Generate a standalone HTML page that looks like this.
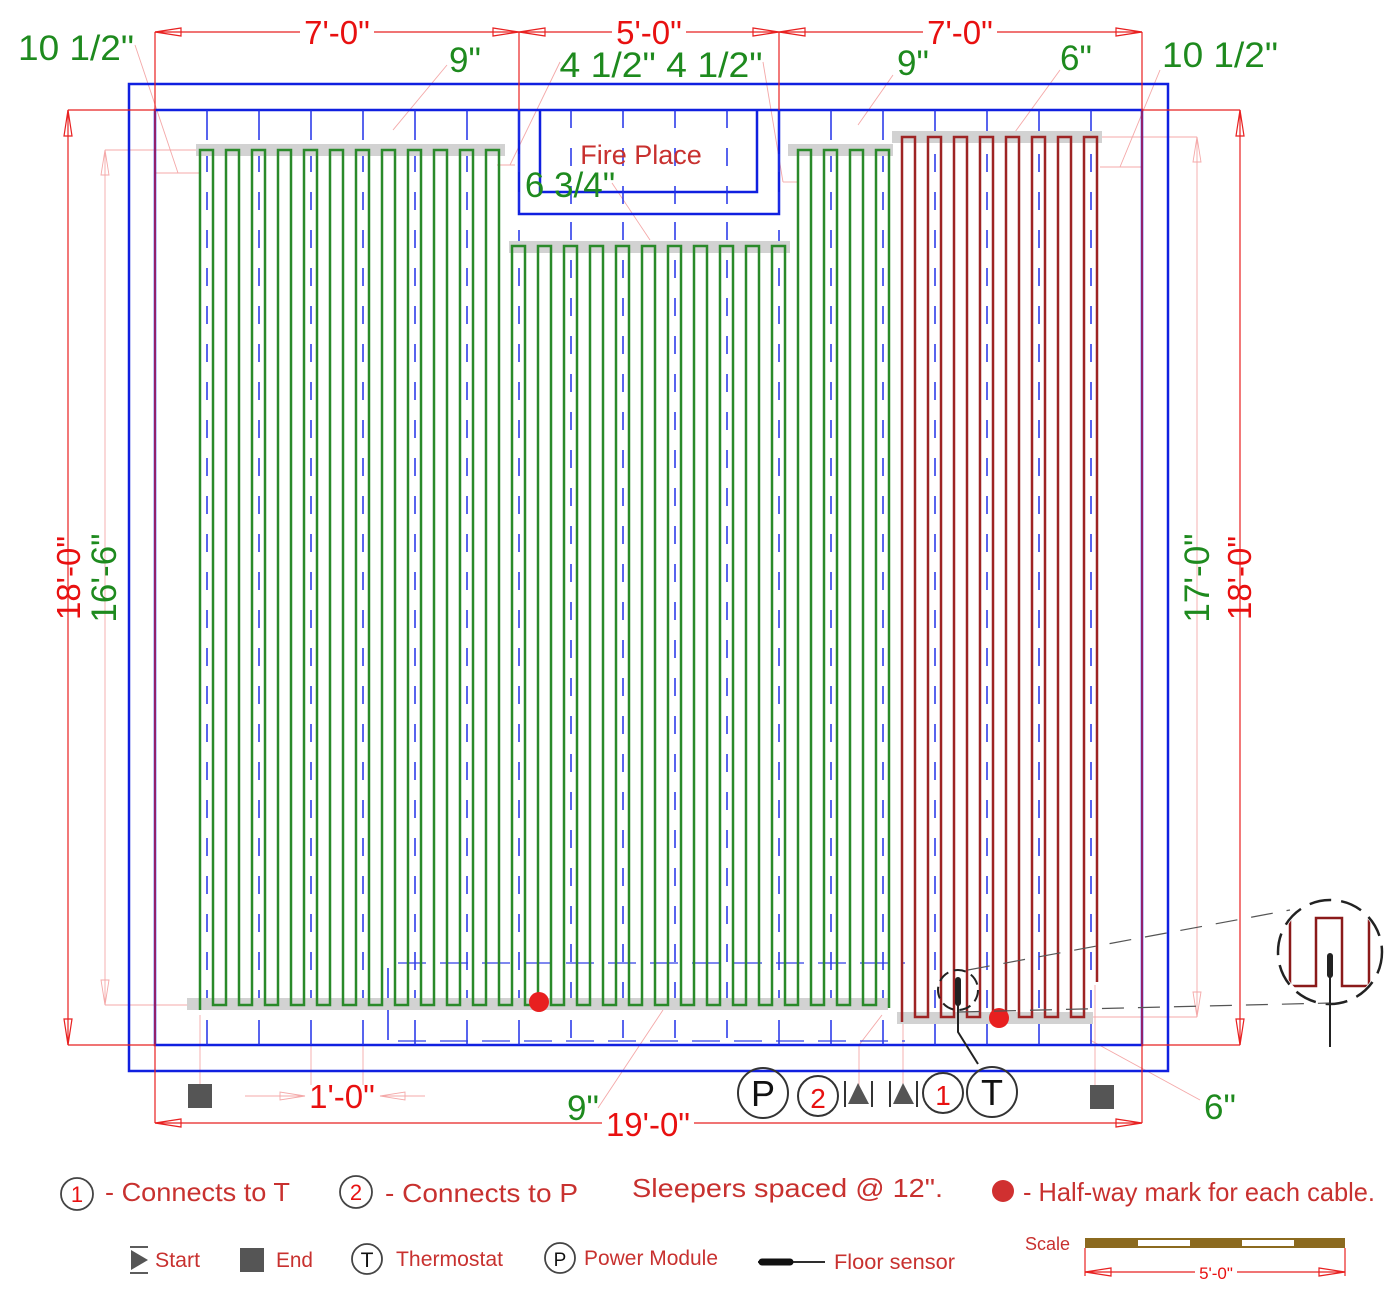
<!DOCTYPE html>
<html><head><meta charset="utf-8"><style>
html,body{margin:0;padding:0;background:#fff}
svg{display:block;font-family:"Liberation Sans",sans-serif}
</style></head><body>
<svg id="s" width="1400" height="1296" viewBox="0 0 1400 1296" xmlns="http://www.w3.org/2000/svg">
<defs>
<clipPath id="cc"><circle cx="1330" cy="952" r="50"/></clipPath>
</defs>
<g stroke="#f4a8a8" stroke-width="0.9" fill="none">
<line x1="105" y1="150" x2="196" y2="150"/><line x1="105" y1="1005" x2="187" y2="1005"/>
<line x1="105" y1="150" x2="105" y2="1005"/>
<line x1="1197" y1="137" x2="1102" y2="137"/><line x1="1197" y1="1017" x2="1093" y2="1017"/>
<line x1="1197" y1="137" x2="1197" y2="1017"/>
<line x1="135" y1="45" x2="178" y2="173"/><line x1="155" y1="173" x2="200" y2="173"/>
<line x1="447" y1="65" x2="393" y2="130"/>
<line x1="560" y1="62" x2="510" y2="165"/><line x1="497" y1="165" x2="515" y2="165"/>
<line x1="763" y1="62" x2="783" y2="182"/><line x1="783" y1="182" x2="797" y2="182"/>
<line x1="893" y1="75" x2="858" y2="125"/>
<line x1="1060" y1="70" x2="1015" y2="132"/>
<line x1="1160" y1="70" x2="1120" y2="167"/><line x1="1100" y1="167" x2="1142" y2="167"/>
<line x1="612" y1="183" x2="650" y2="240"/>
<line x1="200" y1="1015" x2="200" y2="1095"/>
<line x1="598" y1="1108" x2="663" y2="1010"/>
<line x1="1200" y1="1100" x2="1090" y2="1040"/>
<line x1="859" y1="1090" x2="859" y2="1045"/><line x1="859" y1="1045" x2="882" y2="1015"/>
<line x1="903" y1="1090" x2="903" y2="1020"/>
<line x1="1095" y1="1095" x2="1095" y2="985"/>
<line x1="1190" y1="1017" x2="1100" y2="1017"/>
<line x1="245" y1="1096" x2="305" y2="1096"/><line x1="380" y1="1096" x2="425" y2="1096"/>
<line x1="311" y1="1045" x2="311" y2="1085"/><line x1="363" y1="1045" x2="363" y2="1085"/>
<polygon points="305,1096 280,1092 280,1100"/><polygon points="380,1096 405,1092 405,1100"/>
<polygon points="105,150 101,175 109,175"/><polygon points="105,1005 101,980 109,980"/>
<polygon points="1197,137 1193,162 1201,162"/><polygon points="1197,1017 1193,992 1201,992"/>
</g>
<g stroke="#1020e0" stroke-width="2.5" fill="none">
<rect x="129" y="84" width="1039" height="987"/>
<rect x="155" y="110" width="987" height="935"/>
<polyline points="519,110 519,214 779,214 779,110"/>
<polyline points="540,110 540,192 757,192 757,110"/>
</g>
<g id="slp" stroke="#2030e8" stroke-width="1.5" fill="none"></g>
<g stroke="#3040e8" stroke-width="1.3" fill="none" stroke-dasharray="28,14">
<line x1="398" y1="963" x2="905" y2="963"/><line x1="398" y1="1041" x2="905" y2="1041"/>
</g>
<line x1="388" y1="968" x2="388" y2="1040" stroke="#2030e8" stroke-width="1.5"/>
<g fill="#d2d2d2">
<rect x="196" y="144" width="309" height="12"/>
<rect x="509" y="241" width="281" height="12"/>
<rect x="788" y="144" width="105" height="12"/>
<rect x="892" y="131" width="210" height="12"/>
<rect x="187" y="998" width="701" height="12"/>
<rect x="897" y="1012" width="196" height="12"/>
</g>
<path id="gp" stroke="#2a8a2a" stroke-width="2.5" fill="none"/>
<path id="rp" stroke="#9e2424" stroke-width="2.5" fill="none"/>
<circle cx="539" cy="1002" r="10" fill="#e82020"/>
<circle cx="999" cy="1018" r="10" fill="#e82020"/>
<g stroke="#e82020" stroke-width="1.2" fill="none">
<line x1="155" y1="32" x2="1142" y2="32"/>
<line x1="155" y1="32" x2="155" y2="1123"/><line x1="519" y1="32" x2="519" y2="110"/>
<line x1="779" y1="32" x2="779" y2="110"/><line x1="1142" y1="32" x2="1142" y2="1123"/>
<line x1="155" y1="1123" x2="1142" y2="1123"/>
<line x1="68" y1="110" x2="155" y2="110"/><line x1="68" y1="1045" x2="155" y2="1045"/>
<line x1="68" y1="110" x2="68" y2="1045"/>
<line x1="1142" y1="110" x2="1240" y2="110"/><line x1="1142" y1="1045" x2="1240" y2="1045"/>
<line x1="1240" y1="110" x2="1240" y2="1045"/>
<polygon points="155,32 181,28 181,36"/><polygon points="519,32 493,28 493,36"/><polygon points="519,32 545,28 545,36"/>
<polygon points="779,32 753,28 753,36"/><polygon points="779,32 805,28 805,36"/><polygon points="1142,32 1116,28 1116,36"/>
<polygon points="155,1123 181,1119 181,1127"/><polygon points="1142,1123 1116,1119 1116,1127"/>
<polygon points="68,110 64,136 72,136"/><polygon points="68,1045 64,1019 72,1019"/>
<polygon points="1240,110 1236,136 1244,136"/><polygon points="1240,1045 1236,1019 1244,1019"/>
</g>
<g fill="#e81010" font-size="33" text-anchor="middle">
<rect x="300" y="16" width="74" height="30" fill="#fff"/><text x="337" y="44">7'-0"</text>
<rect x="612" y="16" width="74" height="30" fill="#fff"/><text x="649" y="44">5'-0"</text>
<rect x="923" y="16" width="74" height="30" fill="#fff"/><text x="960" y="44">7'-0"</text>
<rect x="602" y="1108" width="92" height="30" fill="#fff"/><text x="648" y="1136">19'-0"</text>
<text x="342" y="1108">1'-0"</text>
<text transform="translate(80,578) rotate(-90)">18'-0"</text>
<text transform="translate(1251,578) rotate(-90)">18'-0"</text>
</g>
<g fill="#1e8a1e" font-size="35" text-anchor="middle">
<text transform="translate(116,578) rotate(-90)">16'-6"</text>
<text transform="translate(1209,578) rotate(-90)">17'-0"</text>
<text x="76" y="60" textLength="116" lengthAdjust="spacingAndGlyphs">10 1/2"</text>
<text x="465" y="72">9"</text>
<text x="661" y="77" textLength="203" lengthAdjust="spacingAndGlyphs">4 1/2" 4 1/2"</text>
<text x="913" y="75">9"</text>
<text x="1076" y="70">6"</text>
<text x="1220" y="67" textLength="116" lengthAdjust="spacingAndGlyphs">10 1/2"</text>
<text x="570" y="197">6 3/4"</text>
<text x="583" y="1120">9"</text>
<text x="1220" y="1119">6"</text>
</g>
<text x="641" y="164" fill="#c8312f" font-size="27" text-anchor="middle">Fire Place</text>
<g stroke="#222" fill="none">
<circle cx="958" cy="990" r="20" stroke-width="2" stroke-dasharray="12,6"/>
<circle cx="1330" cy="952" r="52" stroke-width="2.5" stroke-dasharray="22,10"/>
<line x1="968" y1="970" x2="1290" y2="910" stroke="#555" stroke-width="1.2" stroke-dasharray="22,14"/>
<line x1="958" y1="1012" x2="1330" y2="1003" stroke="#555" stroke-width="1.2" stroke-dasharray="22,14"/>
<line x1="958" y1="980" x2="958" y2="1003" stroke-width="6" stroke-linecap="round"/>
<polyline points="958,1003 958,1032 978,1064" stroke-width="2"/>
<line x1="1330" y1="956" x2="1330" y2="975" stroke-width="6" stroke-linecap="round"/>
<line x1="1330" y1="975" x2="1330" y2="1047" stroke-width="2"/>
</g>
<path clip-path="url(#cc)" d="M1290 900 V986 H1316 V918 H1342 V986 H1369 V900" stroke="#8b1a1a" stroke-width="2.5" fill="none"/>
<g stroke="#333" stroke-width="2" fill="none">
<circle cx="763" cy="1093" r="25"/><circle cx="818" cy="1096" r="20"/>
<circle cx="943" cy="1093" r="20"/><circle cx="992" cy="1092" r="25"/>
<line x1="845" y1="1081" x2="845" y2="1107"/><line x1="872" y1="1081" x2="872" y2="1107"/>
<line x1="890" y1="1081" x2="890" y2="1107"/><line x1="917" y1="1081" x2="917" y2="1107"/>
</g>
<polygon points="858,1083 848,1104 869,1104" fill="#555"/>
<polygon points="903,1083 893,1104 914,1104" fill="#555"/>
<g font-size="36" text-anchor="middle">
<text x="763" y="1106" fill="#111">P</text><text x="992" y="1105" fill="#111">T</text>
<text x="818" y="1108" fill="#e81010" font-size="28">2</text><text x="943" y="1105" fill="#e81010" font-size="28">1</text>
</g>
<rect x="188" y="1084" width="24" height="24" fill="#555"/>
<rect x="1090" y="1085" width="24" height="24" fill="#555"/>
<g stroke="#444" stroke-width="1.8" fill="none">
<circle cx="77" cy="1194" r="16"/><circle cx="356" cy="1192" r="16"/>
<circle cx="367" cy="1259" r="15"/><circle cx="560" cy="1258" r="15"/>
<line x1="130" y1="1247" x2="148" y2="1247"/><line x1="130" y1="1273" x2="148" y2="1273"/>
<line x1="758" y1="1262" x2="825" y2="1262" stroke="#111"/>
<line x1="762" y1="1262" x2="790" y2="1262" stroke="#111" stroke-width="7" stroke-linecap="round"/>
</g>
<polygon points="131,1250 148,1260 131,1270" fill="#555"/>
<rect x="240" y="1248" width="24" height="24" fill="#555"/>
<circle cx="1003" cy="1191" r="11" fill="#d03030"/>
<g font-size="22" text-anchor="middle">
<text x="77" y="1202" fill="#e81010">1</text><text x="356" y="1200" fill="#e81010">2</text>
<text x="367" y="1267" fill="#111" font-size="21">T</text><text x="560" y="1266" fill="#111" font-size="19">P</text>
</g>
<g fill="#c8312f" font-size="26" lengthAdjust="spacingAndGlyphs">
<text x="105" y="1201" textLength="185" lengthAdjust="spacingAndGlyphs">- Connects to T</text>
<text x="385" y="1202" textLength="193" lengthAdjust="spacingAndGlyphs">- Connects  to P</text>
<text x="632" y="1197" textLength="311" lengthAdjust="spacingAndGlyphs">Sleepers spaced @ 12".</text>
<text x="1023" y="1201" textLength="352" lengthAdjust="spacingAndGlyphs">- Half-way mark for each cable.</text>
</g>
<g fill="#c8312f" font-size="21">
<text x="155" y="1267" textLength="45" lengthAdjust="spacingAndGlyphs">Start</text>
<text x="276" y="1267" textLength="37" lengthAdjust="spacingAndGlyphs">End</text>
<text x="396" y="1266" textLength="107" lengthAdjust="spacingAndGlyphs">Thermostat</text>
<text x="584" y="1265" textLength="134" lengthAdjust="spacingAndGlyphs">Power Module</text>
<text x="834" y="1269" textLength="121" lengthAdjust="spacingAndGlyphs">Floor sensor</text>
<text x="1025" y="1250" font-size="18">Scale</text>
</g>
<rect x="1085" y="1238" width="260" height="10" fill="#8b6a1f"/>
<rect x="1138" y="1240" width="52" height="6" fill="#fff"/><rect x="1242" y="1240" width="52" height="6" fill="#fff"/>
<g stroke="#e82020" stroke-width="1.2" fill="none">
<line x1="1085" y1="1248" x2="1085" y2="1276"/><line x1="1345" y1="1248" x2="1345" y2="1276"/>
<line x1="1085" y1="1272" x2="1345" y2="1272"/>
<polygon points="1085,1272 1111,1268 1111,1276"/><polygon points="1345,1272 1319,1268 1319,1276"/>
</g>
<rect x="1195" y="1262" width="42" height="18" fill="#fff"/>
<text x="1216" y="1279" fill="#e81010" font-size="17" text-anchor="middle">5'-0"</text>
</svg>
<script>
(function(){
var ns="http://www.w3.org/2000/svg",g=document.getElementById("slp");
function L(x1,y1,x2,y2,d){var l=document.createElementNS(ns,"line");l.setAttribute("x1",x1);l.setAttribute("y1",y1);l.setAttribute("x2",x2);l.setAttribute("y2",y2);if(d)l.setAttribute("stroke-dasharray",d);g.appendChild(l);}
for(var k=0;k<18;k++){var x=207+52*k;
 var fp=(x>519&&x<779);
 if(fp){L(x,110,x,214,"18,20");L(x,222,x,1045,"18,20");}
 else{L(x,110,x,140);L(x,154,x,1020,"18,20");L(x,1020,x,1045);}
}
var d="M200 1010";
function topY(i){if(i>=24&&i<=45)return 246;return 150;}
for(var i=0;i<54;i++){var x=200+13*i;
 if(i%2==0){d+=" V"+topY(i)+" H"+(x+13);}
 else{ if(i==53){d+=" V1008";} else {d+=" V1005 H"+(x+13);} }
}
document.getElementById("gp").setAttribute("d",d);
var r="M902 1022";
for(var j=0;j<16;j++){var x=902+13*j;
 if(j%2==0){r+=" V137 H"+(x+13);}
 else{ if(j==15){r+=" V982";} else {r+=" V1017 H"+(x+13);} }
}
document.getElementById("rp").setAttribute("d",r);
})();
</script>
</body></html>
